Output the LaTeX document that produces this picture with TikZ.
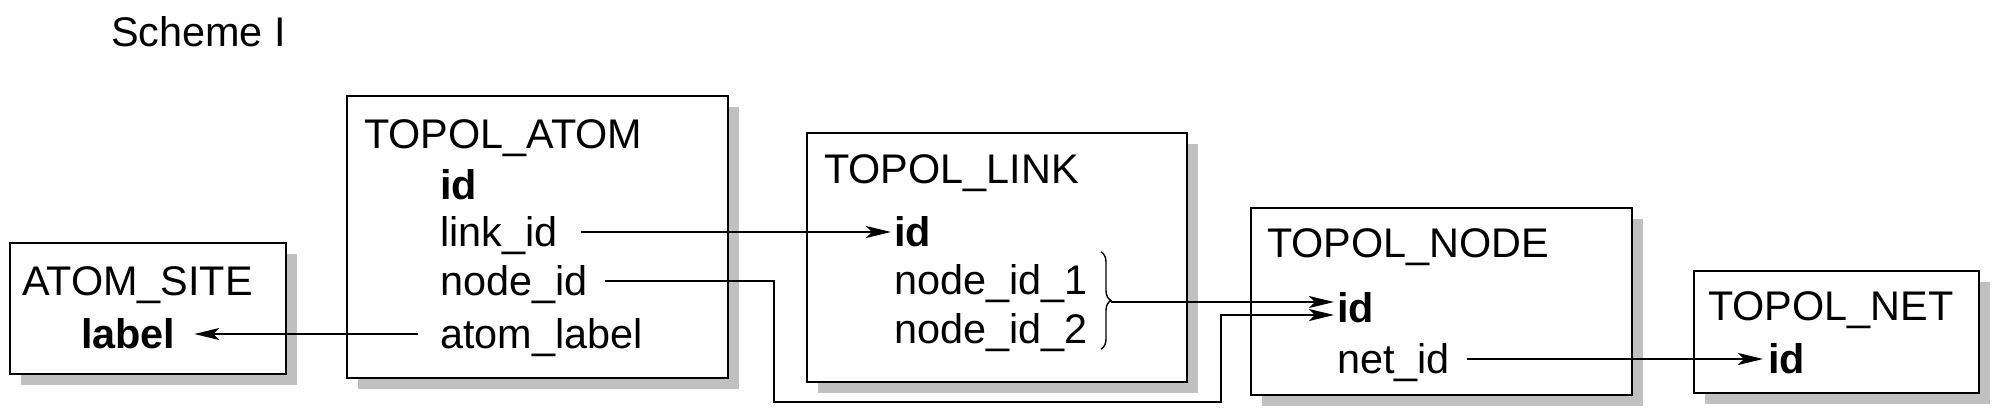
\documentclass[tikz,border=0pt]{standalone}
\usepackage{fontspec}
\setmainfont{Liberation Sans}
\usetikzlibrary{arrows.meta,shadows,decorations.pathreplacing,calc}
\definecolor{shadowgray}{HTML}{C0C0C0}
\begin{document}
\begin{tikzpicture}[x=0.5pt,y=-0.5pt,
  every node/.style={font=\fontsize{20.7}{24}\selectfont, inner sep=0pt, outer sep=0pt},
  box/.style={draw, line width=0.9pt, fill=white, anchor=north west,
    drop shadow={shadow xshift=5.5pt, shadow yshift=-5.5pt, fill=shadowgray, opacity=1}},
  txt/.style={anchor=west, text height=14.8pt, text depth=0pt},
  key/.style={txt, font=\fontsize{20.7}{24}\selectfont\bfseries},
  conn/.style={line width=0.9pt},
  arr/.style={conn, -{Stealth[length=12.5pt,width=6pt,inset=3pt]}},
  bracestyle/.style={decorate, decoration={brace, amplitude=5pt}, line width=0.7pt}]
\useasboundingbox (0,0) rectangle (2002,418);

% title
\node[txt] (scheme) at (111,32) {Scheme I};

% boxes
\node[box, minimum width=138pt, minimum height=65.5pt] (atomsitebox) at (10,243) {};
\node[box, minimum width=190.5pt, minimum height=141pt] (atombox) at (347,96) {};
\node[box, minimum width=190pt, minimum height=124.5pt] (linkbox) at (807,133) {};
\node[box, minimum width=190.5pt, minimum height=93.5pt] (nodebox) at (1251,208) {};
\node[box, minimum width=142.5pt, minimum height=61pt] (netbox) at (1694,271) {};

% ATOM_SITE
\node[txt] (atomsite) at (22,281) {ATOM\_SITE};
\node[key] (label) at (81,334) {label};

% TOPOL_ATOM
\node[txt] (atomtitle) at (364,134) {TOPOL\_ATOM};
\node[key] (aid) at (440,185) {id};
\node[txt] (linkid) at (440,232) {link\_id};
\node[txt] (nodeid) at (440,281) {node\_id};
\node[txt] (atomlabel) at (440,334) {atom\_label};

% TOPOL_LINK
\node[txt] (linktitle) at (824,169) {TOPOL\_LINK};
\node[key] (lid) at (894,232) {id};
\node[txt] (nodeidone) at (894,280) {node\_id\_1};
\node[txt] (nodeidtwo) at (894,329) {node\_id\_2};

% TOPOL_NODE
\node[txt] (nodetitle) at (1267,243) {TOPOL\_NODE};
\node[key] (nid) at (1337,308) {id};
\node[txt] (netid) at (1337,359) {net\_id};

% TOPOL_NET
\node[txt] (nettitle) at (1708,306) {TOPOL\_NET};
\node[key] (tid) at (1768,359) {id};

% brace
\draw[bracestyle] (1101,252) -- (1101,349);
\coordinate (bracetip) at (1111,302);

% connectors
\draw[arr, shorten <=12pt, shorten >=1.5pt] (linkid.east) -- (lid.west);
\draw[arr, shorten <=9pt, shorten >=1.5pt] (nodeid.east) -| (774,402) -| (1221,315) -- ([yshift=-3.5pt]nid.west);
\draw[arr, shorten >=1.5pt] (bracetip) -- ([yshift=3pt]nid.west);
\draw[arr, shorten <=11pt, shorten >=9.5pt] (atomlabel.west) -- (label.east);
\draw[arr, shorten <=8.5pt, shorten >=2.5pt] (netid.east) -- (tid.west);
\end{tikzpicture}
\end{document}
